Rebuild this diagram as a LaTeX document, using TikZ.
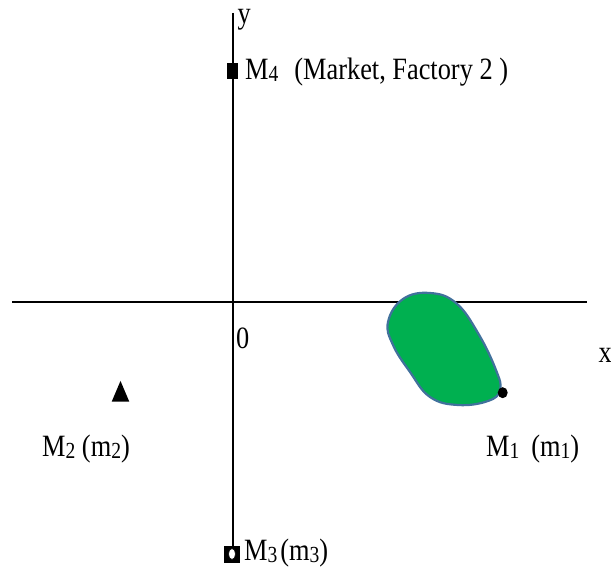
\documentclass[tikz,border=0pt]{standalone}
\usepackage{fontspec}
\usetikzlibrary{shapes.geometric}
\setmainfont{Liberation Serif}[FakeStretch=0.85]
\newcommand\lowsub[1]{\raisebox{-2pt}{\fontsize{23}{23}\selectfont #1}}
\definecolor{blobfill}{HTML}{00B050}
\definecolor{blobline}{HTML}{41719C}
\tikzset{
  axisline/.style={line width=2pt, black},
  lbl/.style={anchor=base west, inner sep=0pt, font=\fontsize{31}{31}\selectfont},
}
\begin{document}
\begin{tikzpicture}[x=1pt,y=-1pt]
\useasboundingbox (0,0) rectangle (611,567);
% axes
\coordinate (xa) at (12,302);
\coordinate (xb) at (587,302);
\coordinate (ya) at (233.3,13);
\coordinate (yb) at (233.3,548);
\draw[axisline] (xa) -- (xb);
\draw[axisline] (ya) -- (yb);
% green region
\draw[line width=2.2pt, draw=blobline, fill=blobfill]
  plot[smooth cycle, tension=0.7] coordinates {
    (430,293) (456,303) (478,333) (496,370) (500,390) (488,401)
    (458,405) (430,397) (410,372) (393,345) (388,322) (403,299)};
% markers
\node[fill=black, minimum width=11pt, minimum height=16pt, inner sep=0pt] (m4) at (232.5,71.5) {};
\node[fill=black, draw=black, minimum width=15pt, minimum height=16pt, inner sep=0pt] (m3) at (232,554) {};
\draw[fill=white, draw=black, line width=0.6pt] (m3.center) ellipse (3.5pt and 5.5pt);
\coordinate (m2) at (120.5,391.3);
\fill[black] (m2) ++(-8.8,10.35) -- ++(17.6,0) -- ++(-8.8,-20.7) -- cycle;
\node[fill=black, ellipse, minimum width=10pt, minimum height=11pt, inner sep=0pt] (m1) at (502.7,392.7) {};
% labels
\node[lbl] (ylab) at (237.5,24) {y};
\node[lbl] (xlab) at (598.5,362) {x};
\node[lbl] (olab) at (236,348) {0};
\node[lbl] (m4lab) at (245,80) {M\lowsub{4}\hspace{16pt}(Market, Factory 2 )};
\node[lbl] (m3lab) at (244,560) {M\lowsub{3}\hspace{3pt}(m\lowsub{3})};
\node[lbl] (m2lab) at (42,456.5) {M\lowsub{2} (m\lowsub{2})};
\node[lbl] (m1lab) at (486,456.5) {M\lowsub{1}\hspace{12pt}(m\lowsub{1})};
\end{tikzpicture}
\end{document}
